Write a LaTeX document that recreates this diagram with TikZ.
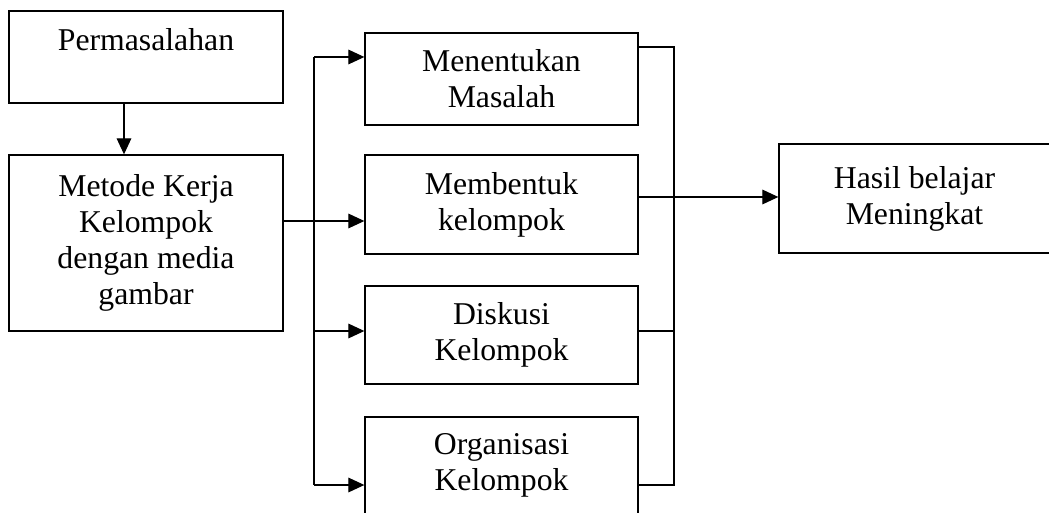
\documentclass[tikz,border=0pt]{standalone}
\usepackage{fontspec}
\setmainfont{Liberation Serif}
\usetikzlibrary{arrows.meta}
\tikzset{
  box/.style={draw=black, line width=1pt, rectangle, inner sep=0pt, align=center,
    font=\fontsize{23.8}{27}\selectfont},
  conn/.style={draw=black, line width=0.85pt},
  arr/.style={conn, -{Triangle[length=12pt,width=11pt]}}
}
\begin{document}
\begin{tikzpicture}[x=0.75pt,y=-0.75pt]
\useasboundingbox (0,0) rectangle (1049,513);
\clip (0,0) rectangle (1049,513);
% boxes
\node[box, minimum width=274*0.75pt, minimum height=92*0.75pt] (perm) at (146,57) {Permasalahan\\[0pt]~};
\node[box, minimum width=274*0.75pt, minimum height=176*0.75pt] (met) at (146,243) {Metode Kerja\\Kelompok\\dengan media\\gambar};
\node[box, minimum width=273*0.75pt, minimum height=92*0.75pt] (m1) at (501.5,79) {Menentukan\\Masalah};
\node[box, minimum width=273*0.75pt, minimum height=99*0.75pt] (m2) at (501.5,204.5) {Membentuk\\kelompok};
\node[box, minimum width=273*0.75pt, minimum height=98*0.75pt] (m3) at (501.5,335) {Diskusi\\Kelompok};
\node[box, minimum width=273*0.75pt, minimum height=97*0.75pt] (m4) at (501.5,465.5) {Organisasi\\Kelompok};
\node[box, minimum width=271*0.75pt, minimum height=109*0.75pt] (hasil) at (914.5,198.5) {Hasil belajar\\Meningkat};
% helper coordinates
\coordinate (ax) at (124,0);
\coordinate (lb) at (314,0);
\coordinate (rb) at (674,0);
\coordinate (y1) at (0,57);
\coordinate (y2) at (0,221);
\coordinate (y3) at (0,331);
\coordinate (y4) at (0,485);
\coordinate (r1) at (0,47);
\coordinate (r2) at (0,197);
% connectors
\draw[arr] (perm.south -| ax) -- (met.north -| ax);
\draw[arr] (met.east |- y2) -- (m2.west |- y2);
\draw[conn] (lb |- y1) -- (lb |- y4);
\draw[arr] (lb |- y1) -- (m1.west |- y1);
\draw[arr] (lb |- y3) -- (m3.west |- y3);
\draw[arr] (lb |- y4) -- (m4.west |- y4);
\draw[conn] (m1.east |- r1) -- (rb |- r1) -- (rb |- y4) -- (m4.east |- y4);
\draw[conn] (m3.east |- y3) -- (rb |- y3);
\draw[arr] (m2.east |- r2) -- (hasil.west |- r2);
\end{tikzpicture}
\end{document}
